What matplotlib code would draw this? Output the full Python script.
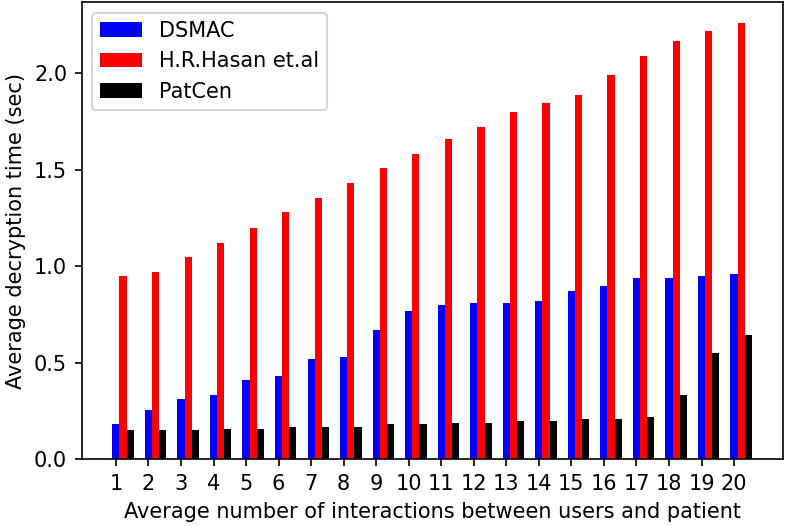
import matplotlib
matplotlib.use('Agg')
import matplotlib.pyplot as plt
import numpy as np

# Average number of interactions (x categories)
interactions = list(range(1, 21))

# decryption times (sec)
dsmac = [0.18, 0.255, 0.31, 0.333, 0.41, 0.43, 0.518, 0.528, 0.668, 0.767,
         0.80, 0.81, 0.81, 0.82, 0.874, 0.896, 0.94, 0.94, 0.95, 0.962]
hasan = [0.95, 0.97, 1.048, 1.12, 1.20, 1.28, 1.355, 1.43, 1.51, 1.585,
         1.66, 1.725, 1.80, 1.845, 1.89, 1.99, 2.09, 2.17, 2.22, 2.262]
patcen = [0.149, 0.149, 0.149, 0.159, 0.159, 0.169, 0.169, 0.169, 0.18, 0.18,
          0.19, 0.19, 0.20, 0.20, 0.21, 0.21, 0.22, 0.333, 0.55, 0.646]

# the reference looks like default matplotlib rendered at ~150 dpi
DPI = 150
fig = plt.figure(figsize=(786 / DPI, 526 / DPI), dpi=DPI)
ax = fig.add_axes([0.104, 0.127, 0.892, 0.869])

x = np.array(interactions)
w = 0.22
ax.bar(x, dsmac, width=w, color='blue', label='DSMAC')
ax.bar(x + w, hasan, width=w, color='red', label='H.R.Hasan et.al')
ax.bar(x + 2 * w, patcen, width=w, color='black', label='PatCen')

ax.set_xticks(x)
ax.set_xticklabels([str(i) for i in interactions])
ax.set_xlim(-0.05, 21.5)
ax.set_ylim(0, 2.37)
ax.set_yticks([0.0, 0.5, 1.0, 1.5, 2.0])

ax.set_xlabel('Average number of interactions between users and patient')
ax.set_ylabel('Average decryption time (sec)')
ax.legend(loc='upper left')

plt.savefig('out.png', dpi=DPI)
